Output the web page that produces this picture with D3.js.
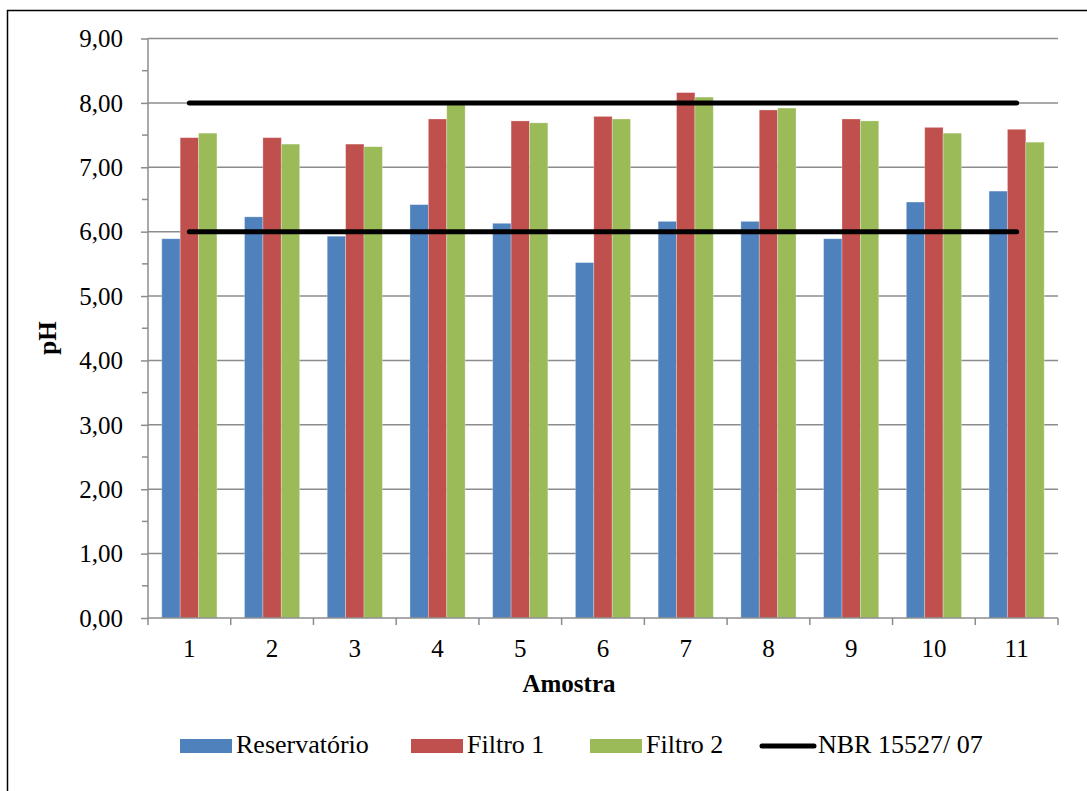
<!DOCTYPE html>
<html><head><meta charset="utf-8">
<script src="https://cdn.jsdelivr.net/npm/d3@7"></script>
<style>body{margin:0;background:#fff}svg{display:block}
text{font-family:"Liberation Serif","Times New Roman",Times,"DejaVu Serif",serif;}</style>
</head><body>
<script>
const categories = ["1","2","3","4","5","6","7","8","9","10","11"];
const reservatorio = [5.89,6.23,5.93,6.42,6.13,5.52,6.16,6.16,5.89,6.46,6.63];
const filtro1 = [7.46,7.46,7.36,7.75,7.72,7.79,8.16,7.89,7.75,7.62,7.59];
const filtro2 = [7.53,7.36,7.32,7.97,7.69,7.75,8.09,7.92,7.72,7.53,7.39];
const nbrLimits = [6,8];
const yTicks = [0,1,2,3,4,5,6,7,8,9];
const seriesNames = ["Reservatório","Filtro 1","Filtro 2"];
const nbrName = "NBR 15527/ 07";
const colors = ["#4F81BD","#C0504D","#9BBB59"];

const W=1087,H=791, FS=25, LFS=26;
const svg=d3.select("body").append("svg").attr("width",W).attr("height",H);
svg.append("rect").attr("x",7.5).attr("y",10.5).attr("width",1100).attr("height",800)
  .attr("fill","#fff").attr("stroke","#000").attr("stroke-width",1.5);

const L=148,R=1058,T=38.5,B=618;
const x=d3.scaleBand().domain(categories).range([L,R]).paddingInner(0).paddingOuter(0);
const y=d3.scaleLinear().domain([0,9]).range([B,T]);
const bw=x.bandwidth()/4.5;

svg.append("g").selectAll("line").data(yTicks.filter(d=>d>0)).join("line")
  .attr("x1",L).attr("x2",R).attr("y1",d=>y(d)).attr("y2",d=>y(d))
  .attr("stroke","#8c8c8c").attr("stroke-width",1.5);

const series=[reservatorio,filtro1,filtro2];
series.forEach((vals,si)=>{
  svg.append("g").selectAll("rect").data(vals).join("rect")
    .attr("x",(d,i)=>x(categories[i])+bw*0.75+si*bw)
    .attr("y",d=>y(d)).attr("width",bw).attr("height",d=>B-y(d))
    .attr("fill",colors[si]).attr("stroke","rgba(255,255,255,0.35)").attr("stroke-width",0.8);
});

const cx=c=>x(c)+x.bandwidth()/2;
nbrLimits.forEach(v=>{
  svg.append("line").attr("x1",cx(categories[0])).attr("x2",cx(categories[categories.length-1]))
    .attr("y1",y(v)).attr("y2",y(v)).attr("stroke","#000").attr("stroke-width",5).attr("stroke-linecap","round");
});

const yAxis=d3.axisLeft(y).tickValues(yTicks).tickSize(7).tickFormat(d=>d3.format(".2f")(d).replace(".",","));
const gy=svg.append("g").attr("transform",`translate(${L},0)`).call(yAxis);
gy.attr("font-family",null).attr("font-size",null);
gy.select(".domain").attr("stroke","#8c8c8c").attr("stroke-width",1.5).attr("d",`M0,${T}V${B}`);
gy.selectAll(".tick line").attr("stroke","#8c8c8c").attr("stroke-width",1.5);
gy.selectAll(".tick text").attr("font-size",FS).attr("fill","#000").attr("x",-25).attr("dy","0.33em");
const minor=d3.range(0.5,9,1);
gy.append("g").selectAll("line").data(minor).join("line")
  .attr("x1",-6).attr("x2",0).attr("y1",d=>y(d)).attr("y2",d=>y(d))
  .attr("stroke","#8c8c8c").attr("stroke-width",1.5);

const gx=svg.append("g").attr("transform",`translate(0,${B})`);
gx.append("line").attr("x1",L).attr("x2",R).attr("stroke","#8c8c8c").attr("stroke-width",1.5);
gx.selectAll(".bt").data(categories.concat(["__end"])).join("line")
  .attr("x1",(d,i)=>i<categories.length?x(d):R).attr("x2",(d,i)=>i<categories.length?x(d):R)
  .attr("y1",0).attr("y2",7).attr("stroke","#8c8c8c").attr("stroke-width",1.5);
gx.selectAll("text").data(categories).join("text")
  .attr("x",d=>cx(d)).attr("y",39).attr("text-anchor","middle")
  .attr("font-size",FS).text(d=>d);

svg.append("text").attr("x",569).attr("y",692).attr("text-anchor","middle")
  .attr("font-size",FS).attr("font-weight","bold").text("Amostra");
svg.append("text").attr("transform","translate(56,338) rotate(-90)").attr("text-anchor","middle")
  .attr("font-size",FS).attr("font-weight","bold").text("pH");

const legX=[180,411,590];
seriesNames.forEach((n,i)=>{
  svg.append("rect").attr("x",legX[i]).attr("y",739).attr("width",52).attr("height",14).attr("fill",colors[i]);
  svg.append("text").attr("x",legX[i]+56).attr("y",753).attr("font-size",LFS).text(n);
});
svg.append("line").attr("x1",762).attr("x2",814).attr("y1",746).attr("y2",746)
  .attr("stroke","#000").attr("stroke-width",5).attr("stroke-linecap","round");
svg.append("text").attr("x",818).attr("y",753).attr("font-size",LFS).text(nbrName);
</script>
</body></html>
